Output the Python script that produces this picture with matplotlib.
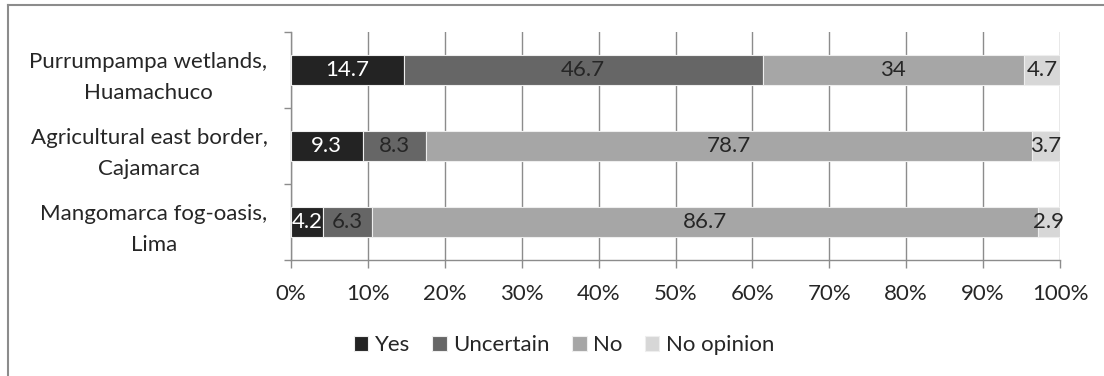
import matplotlib
matplotlib.use("Agg")
import matplotlib.pyplot as plt
from matplotlib.lines import Line2D
from matplotlib.ticker import PercentFormatter
import numpy as np

plt.rcParams['font.family'] = ['Lato', 'DejaVu Sans']

# data (top row first)
sites = ["Purrumpampa wetlands,\nHuamachuco",
         "Agricultural east border,\nCajamarca",
         "Mangomarca fog-oasis,\nLima"]
series = ["Yes", "Uncertain", "No", "No opinion"]
yes = [14.7, 9.3, 4.2]
uncertain = [46.7, 8.3, 6.3]
no = [34, 78.7, 86.7]
no_opinion = [4.7, 3.7, 2.9]
colors = ["#232323", "#666666", "#a6a6a6", "#d7d7d7"]
label_colors = ["white", "#262626", "#262626", "#262626"]

vals = np.array([yes, uncertain, no, no_opinion], dtype=float)
totals = vals.sum(axis=0)
shares = vals / totals * 100  # 100% stacked, like the original

fs = 16
W, H = 1104, 376
fig = plt.figure(figsize=(W / 100, H / 100), dpi=100)
ax = fig.add_axes([291 / W, 1 - 260 / H, (1060 - 291) / W, (260 - 32) / H])

ypos = np.arange(len(sites))[::-1]
left = np.zeros(len(sites))
for i, name in enumerate(series):
    bars = ax.barh(ypos, shares[i], left=left, height=0.4, color=colors[i],
                   edgecolor="#eeeeee", linewidth=0.8, label=name, zorder=3)
    ax.bar_label(bars, labels=[f"{v:g}" for v in vals[i]], label_type="center",
                 color=label_colors[i], fontsize=fs)
    left += shares[i]

ax.set_xlim(0, 100)
ax.set_ylim(-0.5, len(sites) - 0.5)
ax.set_xticks(np.arange(0, 101, 10))
ax.xaxis.set_major_formatter(PercentFormatter(decimals=0))
ax.grid(axis="x", color="#8c8c8c", linewidth=1, zorder=0)

ax.set_yticks(ypos)
ax.set_yticklabels(sites, multialignment="center", linespacing=1.7)
ax.set_yticks(np.arange(-0.5, len(sites), 1), minor=True)
ax.tick_params(axis="y", which="major", length=0, pad=17, labelsize=fs, labelcolor="#262626")
ax.tick_params(axis="y", which="minor", length=5, width=1, color="#8c8c8c")
ax.tick_params(axis="x", length=6, width=1, color="#8c8c8c", labelsize=fs,
               labelcolor="#262626", pad=11)

for s in ["top", "right"]:
    ax.spines[s].set_visible(False)
for s in ["left", "bottom"]:
    ax.spines[s].set_color("#8c8c8c")
    ax.spines[s].set_linewidth(1)

fig.legend(loc="center", bbox_to_anchor=(564 / W, 1 - 345 / H), ncol=4, frameon=False,
           handlelength=0.65, handleheight=0.65, handletextpad=0.3, columnspacing=1.0,
           fontsize=fs, labelcolor="#262626")

# outer chart frame
fig.add_artist(Line2D([8 / W, 1], [1 - 5 / H, 1 - 5 / H], color="#8c8c8c", lw=1.5,
                      transform=fig.transFigure))
fig.add_artist(Line2D([8 / W, 8 / W], [0, 1 - 5 / H], color="#8c8c8c", lw=1.5,
                      transform=fig.transFigure))

fig.savefig("out.png", dpi=100)
